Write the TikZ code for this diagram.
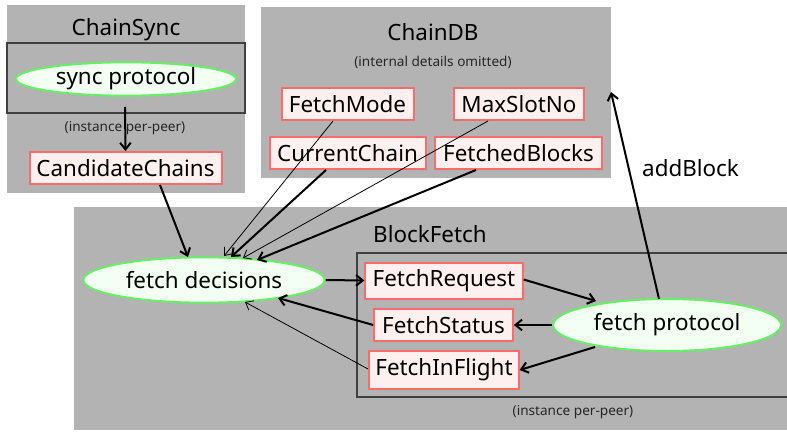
\documentclass[tikz,border=0pt]{standalone}
\usepackage{fontspec}
\setmainfont{Noto Sans}
\usetikzlibrary{shapes.geometric,arrows.meta}
\definecolor{clgray}{HTML}{B3B3B3}
\definecolor{boxfill}{HTML}{FFF0F0}
\definecolor{boxline}{HTML}{FF6B6B}
\definecolor{ellfill}{HTML}{F2FFF2}
\definecolor{ellline}{HTML}{66F066}
\tikzset{
  cluster/.style={fill=clgray,draw=none},
  inner/.style={draw=black!75,line width=1pt},
  bignode/.style={font=\fontsize{16.8}{20}\selectfont},
  small/.style={font=\fontsize{10.2}{12}\selectfont,text=black!85},
  varbox/.style={draw=boxline,fill=boxfill,line width=1.5pt,bignode,inner sep=0pt,minimum height=24pt},
  proc/.style={ellipse,draw=ellline,fill=ellfill,line width=1.5pt,bignode,inner sep=0pt},
  thk/.style={line width=1.5pt,-{Straight Barb[length=5pt,width=8pt]}},
  thn/.style={line width=0.6pt,-{Straight Barb[length=5pt,width=8pt]}},
}
\begin{document}
\begin{tikzpicture}[x=0.75pt,y=-0.75pt]
\useasboundingbox (0,0) rectangle (787,432);
\begin{scope}
\clip (0,0) rectangle (787,432);
% clusters
\fill[cluster] (7,5) rectangle (245,193);
\draw[inner] (7,43) rectangle (245,113);
\fill[cluster] (261,7) rectangle (611,178);
\fill[cluster] (74,207) rectangle (800,430);
\draw[inner] (357,253) rectangle (800,397);
\end{scope}
\node[bignode] (csl) at (126,30) {ChainSync};
\node[small] (csi) at (125,128) {(instance per-peer)};
\node[bignode] (cdbl) at (433,32) {ChainDB};
\node[small] (cdbi) at (433,62) {(internal details omitted)};
\node[bignode] (bfl) at (430,234) {BlockFetch};
\node[small] (bfi) at (573,412) {(instance per-peer)};
% nodes
\node[proc,minimum width=165pt,minimum height=25pt] (sync) at (126,79) {sync protocol};
\node[varbox,minimum width=144pt] (cand) at (125.5,168) {CandidateChains};
\node[varbox,minimum width=99pt] (mode) at (347.5,104) {FetchMode};
\node[varbox,minimum width=97pt] (maxs) at (519,104) {MaxSlotNo};
\node[varbox,minimum width=117pt] (curr) at (347.5,153) {CurrentChain};
\node[varbox,minimum width=125pt] (fblk) at (518.5,153) {FetchedBlocks};
\node[proc,minimum width=181pt,minimum height=34pt] (dec) at (204,280) {fetch decisions};
\node[varbox,minimum width=118pt,minimum height=27pt] (freq) at (444,280.5) {FetchRequest};
\node[varbox,minimum width=104pt] (fst) at (443.5,325) {FetchStatus};
\node[varbox,minimum width=112pt,minimum height=28pt] (ffl) at (444,370) {FetchInFlight};
\node[proc,minimum width=171pt,minimum height=39pt] (prot) at (667,325) {fetch protocol};
\coordinate (sbot) at (125,107);
\coordinate (dbc) at (611,92);
% edges
\draw[thk] (sbot) -- (cand.north);
\draw[thk] (160,185) -- (188,257);
\draw[thn] (333,121) -- (224,256);
\draw[thk] (326,170) -- (231,257);
\draw[thn] (488,121) -- (243,258);
\draw[thk] (476,170) -- (257,260);
\draw[thk] (dec.east) -- (freq.west);
\draw[thk] (freq.east) ++(0,-1) -- (596,301);
\draw[thk] (prot.west) -- (fst.east);
\draw[thk] (595,347) -- (ffl.east);
\draw[thk] (fst.west) -- (278,298);
\draw[thn] (368,369) -- (245,302);
\draw[thk] (659,299) -- node[pos=0.63,right=6pt,bignode] (ab) {addBlock} (dbc);
\end{tikzpicture}
\end{document}
